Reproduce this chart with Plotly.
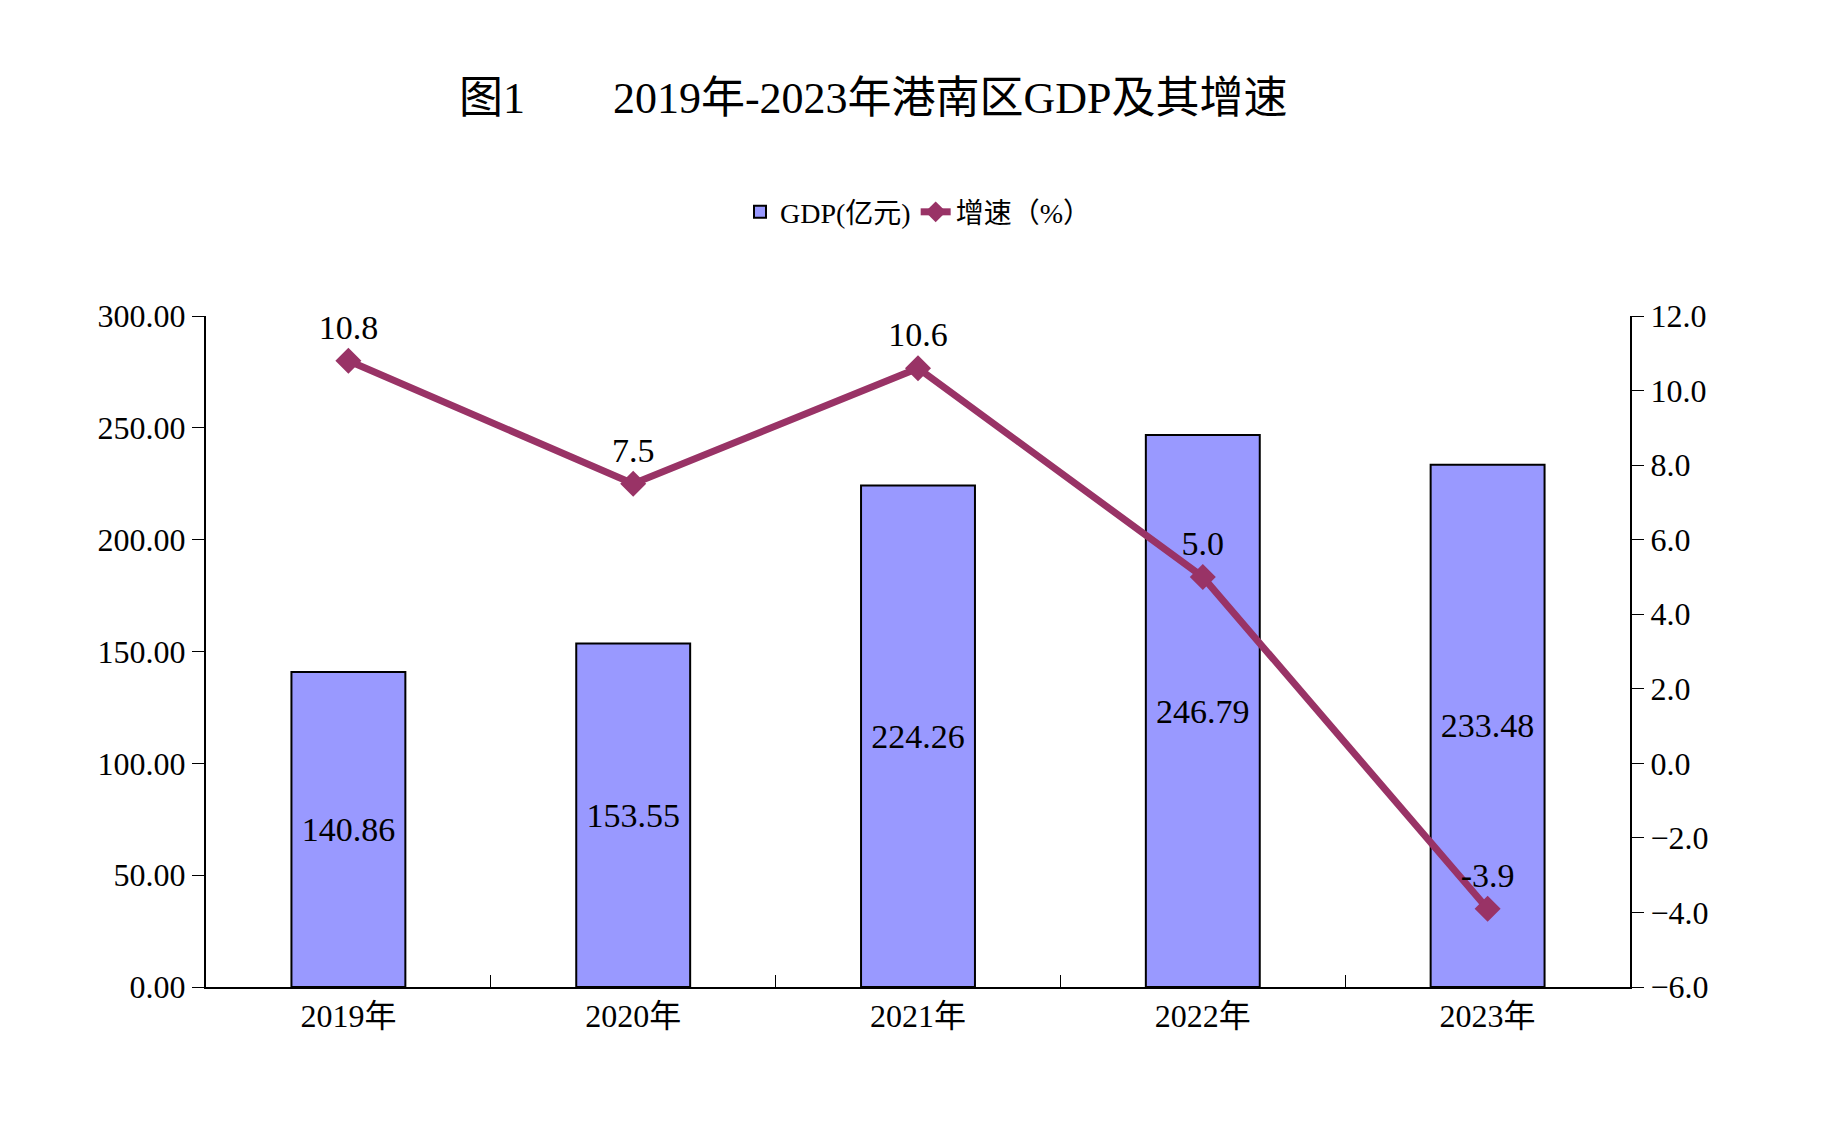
import plotly.graph_objects as go

years = ["2019年", "2020年", "2021年", "2022年", "2023年"]
gdp = [140.86, 153.55, 224.26, 246.79, 233.48]
growth = [10.8, 7.5, 10.6, 5.0, -3.9]

F = "Liberation Serif, Noto Sans CJK SC"
fig = go.Figure()
fig.add_trace(go.Bar(x=years, y=gdp, name="GDP(亿元)", marker=dict(color="#9999FF", line=dict(color="black", width=2)),
                     width=0.4, text=[f"{v:.2f}" for v in gdp], textposition="inside", insidetextanchor="middle",
                     textfont=dict(size=34, color="black"), textangle=0))
fig.add_trace(go.Scatter(x=years, y=growth, name="增速（%）", yaxis="y2", mode="lines+markers+text",
                         line=dict(color="#993366", width=7), marker=dict(symbol="diamond", size=20, color="#993366"),
                         text=[f"{v:.1f}" for v in growth], textposition="top center", textfont=dict(size=34, color="black")))
fig.update_layout(
    width=1841, height=1134, plot_bgcolor="white", paper_bgcolor="white",
    font=dict(family=F, size=32, color="black"),
    title=dict(text="图1　　2019年-2023年港南区GDP及其增速", x=0.47, xanchor="center", y=0.935, yref="container", font=dict(size=44)),
    legend=dict(orientation="h", x=0.5, xanchor="center", y=0.82, yref="container", yanchor="middle", font=dict(size=28)),
    margin=dict(l=198, r=219, t=308, b=155),
    showlegend=True,
    xaxis=dict(showline=True, linecolor="black", linewidth=2, ticks="inside", tickson="boundaries", ticklen=12, tickcolor="black"),
    yaxis=dict(range=[0, 300], dtick=50, tickformat=".2f", showgrid=False, showline=True, linecolor="black", linewidth=2,
               ticks="outside", ticklen=12, tickcolor="black"),
    yaxis2=dict(range=[-6, 12], dtick=2, tickformat=".1f", overlaying="y", side="right", showgrid=False, showline=True,
                linecolor="black", linewidth=2, ticks="outside", ticklen=12, tickcolor="black", zeroline=False),
)
fig.write_html("out.html")
